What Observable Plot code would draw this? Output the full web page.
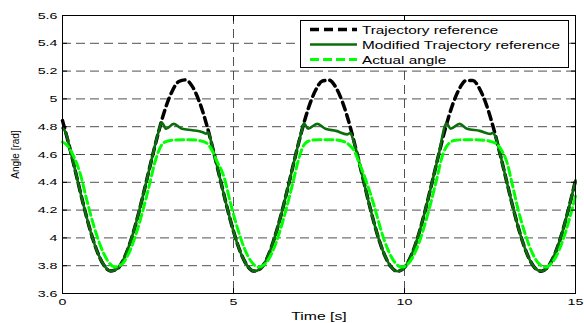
<!DOCTYPE html>
<html><head><meta charset="utf-8">
<script src="https://cdn.jsdelivr.net/npm/d3@7"></script>
<script src="https://cdn.jsdelivr.net/npm/@observablehq/plot@0.6"></script>
<style>
body{margin:0;background:#fff}
#wrap{position:relative;width:584px;height:323px;overflow:hidden}
#legend{position:absolute;left:0;top:0}
</style>
</head><body><div id="wrap"></div>
<script>
// Trajectory reference (black dashed)
const refT = [0,0.2,0.4,0.6,0.8,1.0,1.2,1.4,1.6,1.8,2.0,2.2,2.4,2.6,2.8,3.0,3.2,3.4,3.6,3.8,4.0,4.2,4.4,4.6,4.8,5.0,5.2,5.4,5.6,5.8,6.0,6.2,6.4,6.6,6.8,7.0,7.2,7.4,7.6,7.8,8.0,8.2,8.4,8.6,8.8,9.0,9.2,9.4,9.6,9.8,10.0,10.2,10.4,10.6,10.8,11.0,11.2,11.4,11.6,11.8,12.0,12.2,12.4,12.6,12.8,13.0,13.2,13.4,13.6,13.8,14.0,14.2,14.4,14.6,14.8,15.0];
const refV = [4.844,4.659,4.455,4.251,4.064,3.912,3.808,3.762,3.777,3.853,3.983,4.154,4.352,4.558,4.755,4.925,5.052,5.125,5.137,5.088,4.981,4.827,4.639,4.434,4.231,4.047,3.899,3.801,3.761,3.782,3.864,4.002,4.173,4.372,4.579,4.774,4.940,5.062,5.129,5.135,5.080,4.968,4.810,4.619,4.414,4.211,4.030,3.887,3.794,3.760,3.788,3.875,4.014,4.192,4.393,4.599,4.792,4.954,5.071,5.132,5.132,5.071,4.954,4.792,4.599,4.393,4.192,4.014,3.875,3.788,3.760,3.794,3.887,4.030,4.211,4.414];

// Modified trajectory reference (dark green solid)
const modT = [0,0.1,0.2,0.4,0.6,0.8,1.0,1.2,1.4,1.6,1.8,2.0,2.2,2.4,2.6,2.8,2.9,3.03,3.25,3.5,3.8,4.1,4.2,4.26,4.35,4.4,4.6,4.8,5.0,5.2,5.4,5.6,5.8,6.0,6.2,6.4,6.6,6.8,7.0,7.06,7.18,7.45,7.69,8.0,8.32,8.42,8.5,8.6,8.8,9.0,9.2,9.4,9.6,9.8,10.0,10.2,10.4,10.6,10.8,11.0,11.23,11.35,11.61,11.83,12.2,12.51,12.58,12.66,12.8,13.0,13.2,13.4,13.6,13.8,14.0,14.2,14.4,14.6,14.8,15.0];
const modV = [4.79,4.755,4.659,4.455,4.251,4.064,3.912,3.808,3.762,3.777,3.853,3.983,4.154,4.352,4.558,4.755,4.83,4.785,4.82,4.785,4.775,4.76,4.75,4.76,4.69,4.639,4.434,4.231,4.047,3.899,3.801,3.761,3.782,3.864,4.002,4.173,4.372,4.579,4.774,4.825,4.785,4.82,4.785,4.77,4.745,4.755,4.705,4.619,4.414,4.211,4.030,3.887,3.794,3.760,3.788,3.875,4.014,4.192,4.393,4.599,4.825,4.785,4.82,4.785,4.77,4.748,4.755,4.73,4.599,4.393,4.192,4.014,3.875,3.788,3.760,3.794,3.887,4.030,4.211,4.414];

// Actual angle (light green dashed)
const actT = [0,0.1,0.2,0.32,0.52,0.72,0.92,1.12,1.32,1.52,1.72,1.92,2.12,2.32,2.52,2.72,2.82,2.92,3.05,3.3,3.7,4.0,4.2,4.35,4.5,4.72,4.92,5.12,5.32,5.52,5.72,5.92,6.12,6.32,6.52,6.72,6.92,7.02,7.12,7.25,7.5,7.9,8.2,8.38,8.52,8.66,8.92,9.12,9.32,9.52,9.72,9.92,10.12,10.32,10.52,10.72,10.92,11.12,11.2,11.3,11.45,11.8,12.2,12.5,12.7,12.85,13.0,13.12,13.32,13.52,13.72,13.92,14.12,14.32,14.52,14.72,14.92,15.0];
const actV = [4.69,4.675,4.645,4.59,4.46,4.263,4.083,3.937,3.836,3.792,3.807,3.88,4.005,4.17,4.36,4.559,4.63,4.675,4.695,4.705,4.707,4.70,4.685,4.64,4.56,4.44,4.244,4.067,3.924,3.829,3.791,3.812,3.89,4.02,4.188,4.38,4.579,4.65,4.685,4.70,4.707,4.706,4.695,4.67,4.63,4.55,4.38,4.225,4.05,3.912,3.823,3.79,3.817,3.901,4.035,4.206,4.40,4.599,4.645,4.68,4.70,4.707,4.705,4.695,4.675,4.625,4.54,4.42,4.206,4.035,3.901,3.817,3.79,3.823,3.912,4.05,4.225,4.30];

const xTicks = [0,5,10,15];
const yTicks = [3.6,3.8,4,4.2,4.4,4.6,4.8,5,5.2,5.4,5.6];
const seriesNames = ["Trajectory reference","Modified Trajectory reference","Actual angle"];
const xLabel = "Time [s]";
const yLabel = "Angle [rad]";

const ref = refT.map((t,i)=>({t, v: refV[i]}));
const mod = modT.map((t,i)=>({t, v: modV[i]}));
const act = actT.map((t,i)=>({t, v: actV[i]}));

const colBlack = "#000000", colDark = "#0a6e0a", colLight = "#00ff00";
const gridStyle = {stroke:"#333", strokeOpacity:0.85, strokeWidth:1, strokeDasharray:"9,5"};

const svg = Plot.plot({
  width:584, height:323,
  marginLeft:62, marginRight:9, marginTop:15, marginBottom:30,
  x:{domain:[0,15]},
  y:{domain:[3.6,5.6]},
  style:{fontFamily:"'Liberation Sans', Arial, sans-serif", fontSize:"9.5px", color:"#000", background:"#fff"},
  marks:[
    Plot.gridY(yTicks, gridStyle),
    Plot.gridX(xTicks, gridStyle),
    Plot.line(ref, {x:"t", y:"v", stroke:colBlack, strokeWidth:3.5, strokeDasharray:"8,5", curve:"monotone-x"}),
    Plot.line(mod, {x:"t", y:"v", stroke:colDark, strokeWidth:2.6, curve:"monotone-x"}),
    Plot.line(act, {x:"t", y:"v", stroke:colLight, strokeWidth:3, strokeDasharray:"8,4", curve:"monotone-x"}),
    Plot.axisY(yTicks, {anchor:"left", tickSize:5, dx:5, tickFormat:()=>"", label:null}),
    Plot.axisY(yTicks, {anchor:"right", tickSize:5, dx:-5, tickFormat:()=>"", label:null}),
    Plot.axisX(xTicks, {anchor:"bottom", tickSize:5, dy:-5, tickFormat:()=>"", label:null}),
    Plot.axisX(xTicks, {anchor:"top", tickSize:5, dy:5, tickFormat:()=>"", label:null}),
    Plot.axisY(yTicks, {anchor:"left", tickSize:0, tickPadding:5, tickFormat:d=>String(d), label:yLabel, labelAnchor:"center", labelArrow:"none", labelOffset:51}),
    Plot.axisX(xTicks, {anchor:"bottom", tickSize:0, tickPadding:5, tickFormat:d=>String(d), label:xLabel, labelAnchor:"center", labelArrow:"none", labelOffset:26}),
    Plot.frame({stroke:"#000", strokeWidth:1})
  ]
});
const wrap = document.getElementById("wrap");
wrap.appendChild(svg);

function stretch(nodes, k){
  nodes.forEach(n=>{
    const w = n.getComputedTextLength();
    if (w > 0) { n.setAttribute("textLength", (w*k).toFixed(1)); n.setAttribute("lengthAdjust","spacingAndGlyphs"); }
  });
}
// strip any direction arrows that the library may add to axis labels
svg.querySelectorAll('g[aria-label="y-axis label"] text, g[aria-label="x-axis label"] text').forEach(n=>{
  n.textContent = n.textContent.replace(/[↑↓→←]/g,"").trim();
});
stretch(svg.querySelectorAll('g[aria-label="y-axis tick label"] text'), 1.5);
stretch(svg.querySelectorAll('g[aria-label="x-axis tick label"] text'), 1.5);
svg.querySelectorAll('g[aria-label="y-axis label"] text').forEach(n=>{n.style.fontSize="10px";});
const xl = svg.querySelectorAll('g[aria-label="x-axis label"] text');
xl.forEach(n=>{n.style.fontSize="11px";});
stretch(xl, 1.43);

// Legend box (drawn above the axes, as in the original)
const NS = "http://www.w3.org/2000/svg";
const lg = document.createElementNS(NS, "svg");
lg.setAttribute("id","legend"); lg.setAttribute("width",584); lg.setAttribute("height",323);
wrap.appendChild(lg);
const box = document.createElementNS(NS,"rect");
box.setAttribute("x",300.5); box.setAttribute("y",20.5); box.setAttribute("width",268); box.setAttribute("height",47);
box.setAttribute("fill","#fff"); box.setAttribute("stroke","#000"); box.setAttribute("stroke-width",1);
lg.appendChild(box);
const styles = [
  {stroke:colBlack, w:3.5, dash:"9,5"},
  {stroke:colDark, w:2.6, dash:null},
  {stroke:colLight, w:3, dash:"9,4"}
];
seriesNames.forEach((name,i)=>{
  const cy = 29.5 + i*15;
  const ln = document.createElementNS(NS,"line");
  ln.setAttribute("x1",310); ln.setAttribute("x2",357); ln.setAttribute("y1",cy); ln.setAttribute("y2",cy);
  ln.setAttribute("stroke",styles[i].stroke); ln.setAttribute("stroke-width",styles[i].w);
  if (styles[i].dash) ln.setAttribute("stroke-dasharray",styles[i].dash);
  lg.appendChild(ln);
  const tx = document.createElementNS(NS,"text");
  tx.setAttribute("x",362); tx.setAttribute("y",cy+4);
  tx.setAttribute("font-family","'Liberation Sans', Arial, sans-serif");
  tx.setAttribute("font-size","11.5px");
  tx.textContent = name;
  lg.appendChild(tx);
  stretch([tx], 1.33);
});
</script>
</body></html>
